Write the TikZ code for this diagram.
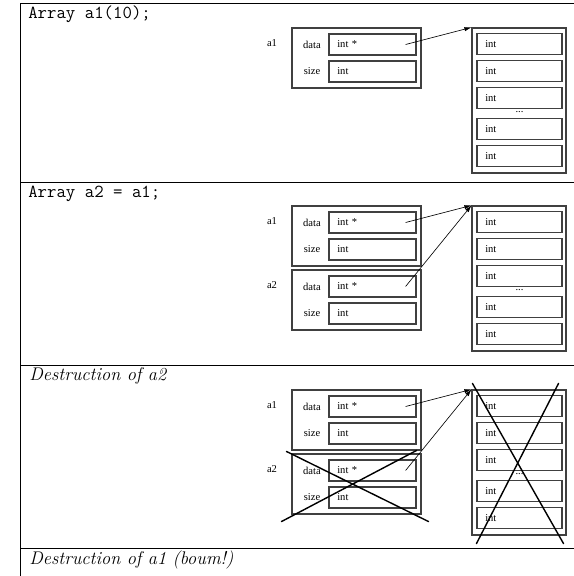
\documentclass[tikz,border=0pt]{standalone}
\usepackage{fontspec}
\newfontfamily\figfont{Liberation Serif}
\usetikzlibrary{arrows.meta,calc}

\begin{document}
\begin{tikzpicture}[x=0.71pt,y=-0.71pt,
	rule/.style={line width=0.6pt},
	objbox/.style={draw=black!75,line width=0.8pt,minimum width=91.6pt,minimum height=42.6pt,inner sep=0pt},
	colbox/.style={draw=black!75,line width=0.8pt,minimum width=66.7pt,minimum height=103pt,inner sep=0pt},
	fieldbox/.style={draw=black!75,line width=0.8pt,minimum width=61.8pt,minimum height=14.9pt,text width=50pt,inner xsep=5.7pt,inner ysep=0pt,align=left,font=\figfont\fontsize{7.5}{9}\selectfont},
	cellbox/.style={fieldbox,minimum width=60.4pt,text width=48.6pt},
	tag/.style={inner sep=0pt,font=\figfont\fontsize{7.5}{9}\selectfont},
	ptr/.style={-{Latex[length=5pt,width=3pt]},line width=0.45pt},
	cross/.style={line width=1pt,line cap=round},
	heading/.style={anchor=base west,inner sep=0pt,font=\fontsize{13}{15}\selectfont}]

	\useasboundingbox (0,0) rectangle (574,576);

	% table rules
	\draw[rule] (20,576) -- (20,3) -- (574,3);
	\foreach \y in {182,365,548}
		\draw[rule] (20,\y) -- (574,\y);

	\node[heading] (t1) at (28,18.5) {\texttt{Array a1(10);}};
	\node[heading] (t2) at (28,197.5) {\texttt{Array a2 = a1;}};
	\node[heading] (t3) at (29,380.5) {\textit{Destruction of a2}};
	\node[heading] (t4) at (29,564) {\textit{Destruction of a1 (boum!)}};

	% the array and a1, in every row
	\foreach \p/\dy in {1/0,2/178,3/362} {
		\node[colbox] (col\p) at (519,100.5+\dy) {};
		\foreach \i/\yy in {1/16.5,2/43.5,3/70.5,4/101.5,5/128.5}
			\node[cellbox] (cell\p-\i) at ($(col\p.north)+(0.5,\yy)$) {int};
		\node[tag] (dots\p) at ($(col\p.north)+(0.5,85)$) {...};

		\node[objbox] (obja\p) at (356.5,58+\dy) {};
		\node[fieldbox] (dataa\p) at (372.5,44.5+\dy) {int *};
		\node[fieldbox] (sizea\p) at (372.5,71.5+\dy) {int};
		\node[tag] (dlaba\p) at (312,44.5+\dy) {data};
		\node[tag] (slaba\p) at (312,71.5+\dy) {size};
		\node[tag] (namea\p) at (272,43.5+\dy) {a1};
		\draw[ptr] ($(dataa\p.east)+(-11,0)$) -- (col\p.north west);
	}

	% a2, a copy of a1
	\foreach \p/\dy in {2/178,3/362} {
		\node[objbox] (objb\p) at (356.5,122+\dy) {};
		\node[fieldbox] (datab\p) at (372.5,108.5+\dy) {int *};
		\node[fieldbox] (sizeb\p) at (372.5,135.5+\dy) {int};
		\node[tag] (dlabb\p) at (312,108.5+\dy) {data};
		\node[tag] (slabb\p) at (312,135.5+\dy) {size};
		\node[tag] (nameb\p) at (272,107.5+\dy) {a2};
		\draw[ptr] ($(datab\p.east)+(-11,0)$) -- (col\p.north west);
	}

	% crossed out
	\draw[cross] ($(objb3.south west)+(-10,7)$) -- ($(objb3.north east)+(-5,-3)$);
	\draw[cross] ($(objb3.north west)+(-5,-2)$) -- ($(objb3.south east)+(7,7)$);
	\draw[cross] ($(col3.south west)+(5,8)$) -- ($(col3.north east)+(-8,-6)$);
	\draw[cross] ($(col3.north west)+(1,-6)$) -- ($(col3.south east)+(-3,8)$);

\end{tikzpicture}
\end{document}
